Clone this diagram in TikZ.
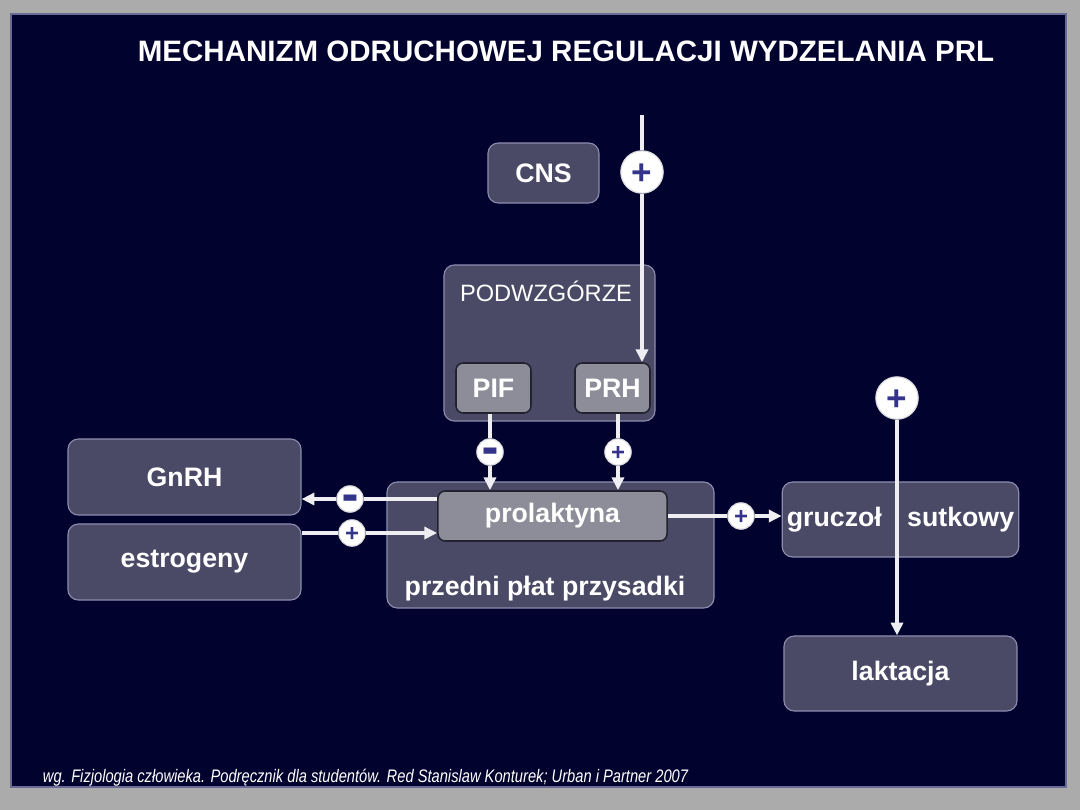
\documentclass[tikz,border=0pt]{standalone}
\usepackage{fontspec}
\setmainfont{Liberation Sans}
\newfontfamily\prsym{DejaVu Sans}
\usetikzlibrary{arrows.meta,positioning}
\definecolor{prgrey}{HTML}{ABABAB}
\definecolor{prnavy}{HTML}{02022F}
\definecolor{prrim}{HTML}{6A6A96}
\definecolor{prbox}{HTML}{4B4A66}
\definecolor{prboxline}{HTML}{8C8CAE}
\definecolor{prinner}{HTML}{8D8D99}
\definecolor{prinnerline}{HTML}{22222F}
\definecolor{prline}{HTML}{EEEEF2}
\definecolor{prsign}{HTML}{34348A}
\newcommand\prminus{{\prsym\fontsize{12}{12}\selectfont ▬}}
\newcommand\prplus{\smash{\raisebox{-0.35em}{+}}}
\tikzset{
  pr text/.style={font=\bfseries, text=white},
  pr box/.style={draw=prboxline, line width=0.8pt, rounded corners=2.6mm, fill=prbox,
    align=center, font=\fontsize{19}{22}\selectfont\bfseries, text=white},
  pr inner/.style={draw=prinnerline, line width=1.1pt, rounded corners=1.8mm, fill=prinner,
    align=center, font=\fontsize{19}{22}\selectfont\bfseries, text=white},
  pr label/.style={font=\fontsize{19}{22}\selectfont\bfseries, text=white},
  pr arrow/.style={-{Triangle[length=3.2mm,width=3mm]}, line width=2.7pt, draw=prline},
  pr link/.style={line width=2.7pt, draw=prline},
  pr sign/.style={circle, fill=white, draw=prline!70!prgrey, line width=0.8pt,
    minimum size=6.6mm, inner sep=0pt, text=prsign, font=\fontsize{17}{17}\selectfont\bfseries},
  pr big sign/.style={pr sign, minimum size=10.6mm, font=\fontsize{25}{25}\selectfont\bfseries},
  pr title/.style={font=\fontsize{21}{24}\selectfont\bfseries, text=white},
  pr note/.style={font=\fontsize{12.9}{15}\selectfont\itshape, text=white}
}

\begin{document}
\begin{tikzpicture}[x=0.025cm, y=-0.025cm, pr text]
  \useasboundingbox (0,0) rectangle (1080,810);
  \fill[prgrey] (0,0) rectangle (1080,810);
  \draw[prrim, fill=prnavy, line width=0.8pt] (11,14) rectangle (1066,787);
  \node[pr title] (title) at (566,51) {MECHANIZM ODRUCHOWEJ REGULACJI WYDZELANIA PRL};

  % podwzgorze
  \node[pr box, minimum width=27.75mm, minimum height=15mm] (cns) at (543.5,173) {CNS};
  \node[pr box, minimum width=52.75mm, minimum height=39mm] (hyp) at (549.5,343) {};
  \node[font=\fontsize{16.8}{19}\selectfont, text=white] (hyplab) at (546,291) {PODWZGÓRZE};
  \node[pr inner, minimum width=18.75mm, minimum height=12.5mm] (pif) at (493.5,388) {PIF};
  \node[pr inner, minimum width=18.75mm, minimum height=12.5mm] (prh) at (612.5,388) {PRH};

  % przysadka
  \node[pr box, minimum width=81.75mm, minimum height=31.5mm] (ant) at (550.5,545) {};
  \node[pr label] (antlab) at (545,589) {przedni płat przysadki};
  \node[pr inner, minimum width=57.25mm, minimum height=12.5mm] (prl) at (552.5,516) {prolaktyna};

  \node[pr box, minimum width=58.25mm, minimum height=19mm] (gnrh) at (184.5,477) {GnRH};
  \node[pr box, minimum width=58.25mm, minimum height=19mm] (estr) at (184.5,562) {estrogeny};
  \node[pr box, minimum width=58.25mm, minimum height=18.75mm] (gland) at (900.5,519.5) {gruczoł\hspace{18pt}sutkowy};
  \node[pr box, minimum width=58.25mm, minimum height=18.75mm] (lact) at (900.5,673.5) {laktacja};

  % sygnaly
  \coordinate (cnstop) at (642,115);
  \node[pr big sign] (cnsp) at (642,172) {\prplus};
  \node[pr sign] (pifm) at (490,452) {\prminus};
  \node[pr sign] (prhp) at (618,452) {\prplus};
  \node[pr sign] (gnm) at (350,499) {\prminus};
  \node[pr sign] (esp) at (352,533) {\prplus};
  \node[pr sign] (glp) at (741,516) {\prplus};
  \node[pr big sign] (lacp) at (897,398) {\prplus};

  \draw[pr link] (cnstop) -- (cnsp);
  \draw[pr arrow] (cnsp) -- (cnsp |- prh.north);
  \draw[pr link] (pif.south -| pifm) -- (pifm);
  \draw[pr arrow] (pifm) -- (pifm |- prl.north);
  \draw[pr link] (prh.south -| prhp) -- (prhp);
  \draw[pr arrow] (prhp) -- (prhp |- prl.north);
  \draw[pr link] (prl.west |- gnm) -- (gnm);
  \draw[pr arrow] (gnm) -- (gnm -| gnrh.east);
  \draw[pr link] (estr.east |- esp) -- (esp);
  \draw[pr arrow] (esp) -- (esp -| prl.west);
  \draw[pr link] (prl.east |- glp) -- (glp);
  \draw[pr arrow] (glp) -- (glp -| gland.west);
  \draw[pr arrow] (lacp) -- (lacp |- lact.north);

  \node[pr note, anchor=west] (src) at (38,778) {\scalebox{0.81}[1]{wg. Fizjologia człowieka. Podręcznik dla studentów. Red Stanislaw Konturek; Urban i Partner 2007}};
\end{tikzpicture}
\end{document}
